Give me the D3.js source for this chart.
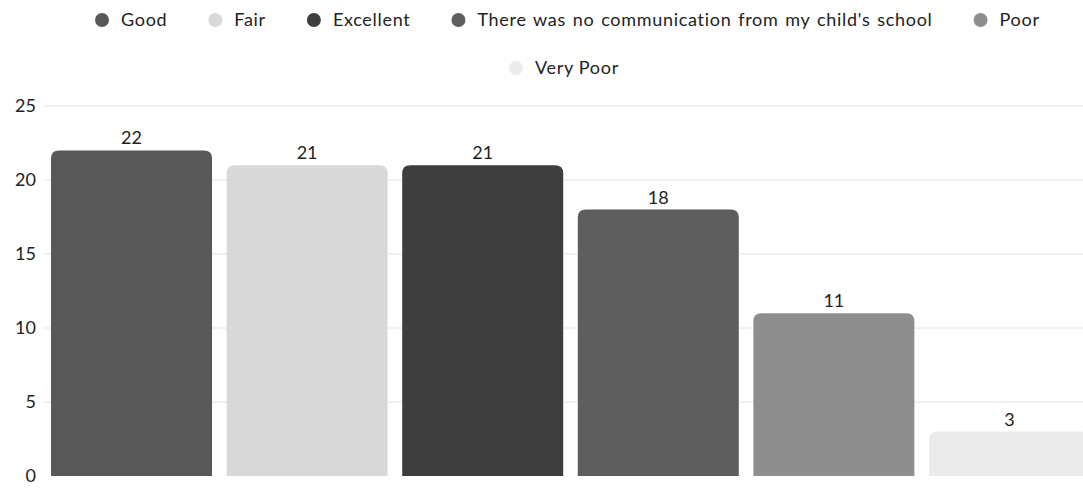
<!DOCTYPE html>
<html><head><meta charset="utf-8">
<script src="https://cdn.jsdelivr.net/npm/d3@7"></script>
<style>body{margin:0;background:#fff}svg{display:block;font-family:Lato,"Open Sans",sans-serif}</style>
</head><body><svg id="c" width="1083" height="488"></svg>
<script>
const categories = ["Good","Fair","Excellent","There was no communication from my child's school","Poor","Very Poor"];
const values = [22,21,21,18,11,3];
const colors = ["#585858","#d8d8d8","#3e3e3e","#5e5e5e","#8e8e8e","#ebebeb"];
const yTicks = [0,5,10,15,20,25];

const svg = d3.select("#c");
const x = d3.scaleBand().domain(categories).range([44,1097]).paddingInner(0.083).paddingOuter(0.04);
const y = d3.scaleLinear().domain([0,25]).range([476,106]);

// gridlines
svg.append("g").selectAll("line").data(yTicks.filter(d=>d>0)).join("line")
  .attr("x1",44).attr("x2",1083).attr("y1",d=>y(d)).attr("y2",d=>y(d))
  .attr("stroke","#e4e4e4").attr("stroke-width",1);

// y axis labels
const yAxis = d3.axisLeft(y).tickValues(yTicks).tickSize(0).tickPadding(0);
const ga = svg.append("g").attr("transform","translate(36,0)").call(yAxis);
ga.select(".domain").remove();
ga.selectAll("text").attr("font-size",18).attr("fill","#222").attr("font-family","Lato,sans-serif");

// bars with rounded top corners
function barPath(x0,w,yTop,yBot,r){
  r=Math.min(r,(yBot-yTop)/2,w/2);
  return `M${x0},${yBot}V${yTop+r}Q${x0},${yTop} ${x0+r},${yTop}H${x0+w-r}Q${x0+w},${yTop} ${x0+w},${yTop+r}V${yBot}Z`;
}
svg.append("g").selectAll("path").data(categories).join("path")
  .attr("d",(d,i)=>barPath(x(d),x.bandwidth(),y(values[i]),y(0),8))
  .attr("fill",(d,i)=>colors[i]);

// value labels
svg.append("g").selectAll("text").data(categories).join("text")
  .attr("x",d=>x(d)+x.bandwidth()/2).attr("y",(d,i)=>y(values[i])-6)
  .attr("text-anchor","middle").attr("font-size",18).attr("fill","#222")
  .text((d,i)=>values[i]);

// legend row 1
const lg = svg.append("g");
let cx = 102;
categories.slice(0,5).forEach((c,i)=>{
  lg.append("circle").attr("cx",cx).attr("cy",20).attr("r",7).attr("fill",colors[i]);
  const t = lg.append("text").attr("x",cx+19).attr("y",26).attr("font-size",18)
    .attr("letter-spacing",0.7).attr("word-spacing",1.5).attr("fill","#222").text(c);
  const w = t.node().getComputedTextLength();
  cx = cx + 19 + w + 48;
});
// legend row 2
lg.append("circle").attr("cx",516).attr("cy",68).attr("r",7).attr("fill",colors[5]);
lg.append("text").attr("x",535).attr("y",74).attr("font-size",18).attr("letter-spacing",0.7)
  .attr("fill","#222").text(categories[5]);
</script></body></html>
